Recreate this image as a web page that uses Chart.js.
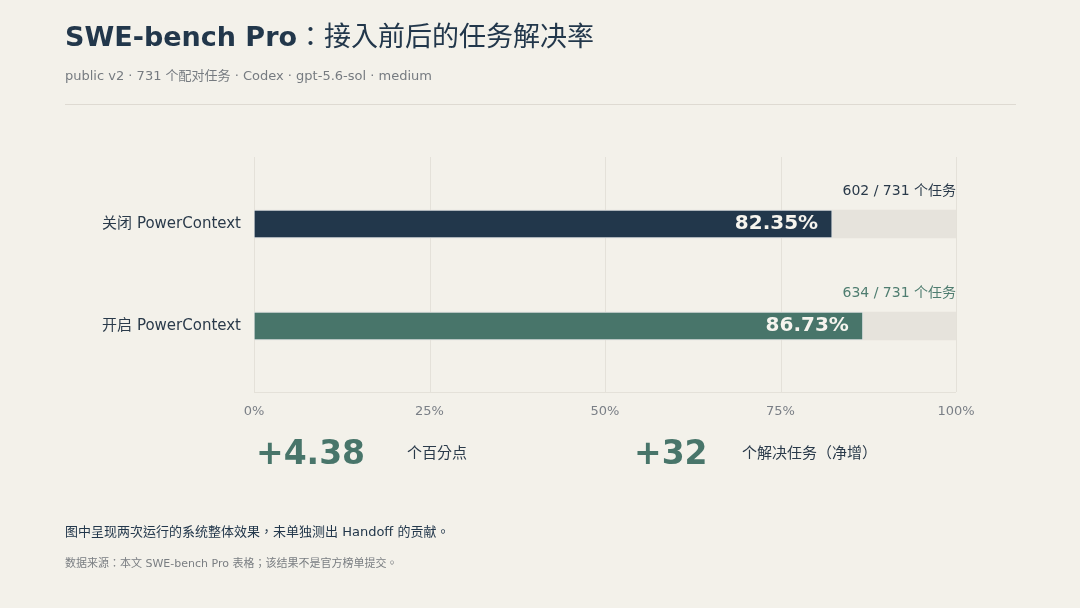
<!DOCTYPE html>
<html>
<head>
<meta charset="utf-8">
<script src="https://cdn.jsdelivr.net/npm/chart.js@4.4.1/dist/chart.umd.min.js"></script>
<style>
  html, body { margin: 0; padding: 0; background: #f3f1ea; }
  body { width: 1080px; height: 608px; position: relative; overflow: hidden;
         font-family: 'DejaVu Sans', 'Noto Sans CJK TC', sans-serif; }
  #wrap { position: absolute; left: 0; top: 0; width: 1080px; height: 608px; }
  .t { position: absolute; white-space: nowrap; line-height: 1; }
  .cjk { font-family: 'Noto Sans CJK TC', sans-serif; text-spacing-trim: space-all; }
  #title { left: 65px; top: 21px; font-size: 27px; color: #22374b; }
  #title b { font-weight: bold; }
  #sub { left: 65px; top: 69px; font-size: 13px; color: #767b80; }
  #rule { position: absolute; left: 65px; top: 104px; width: 951px; height: 1px; background: #dedad2; }
  .big { font-size: 33px; font-weight: bold; color: #48756a; top: 436px; }
  .unit { font-size: 15px; color: #2a3a4a; top: 444px; }
  #note { left: 65px; top: 524px; font-size: 13px; color: #22374b; }
  #src { left: 65px; top: 557px; font-size: 11px; color: #7a7e82; }
</style>
</head>
<body>
<div id="wrap"><canvas id="chart" width="1080" height="608"></canvas></div>
<div class="t" id="title"><b>SWE-bench Pro</b><span class="cjk">：接入前后的任务解决率</span></div>
<div class="t" id="sub">public v2 · 731 个配对任务 · Codex · gpt-5.6-sol · medium</div>
<div id="rule"></div>
<div class="t big" id="deltaPct" style="left:256px"></div>
<div class="t unit cjk" style="left:407px">个百分点</div>
<div class="t big" id="deltaTasks" style="left:634px"></div>
<div class="t unit cjk" style="left:742px">个解决任务（净增）</div>
<div class="t" id="note"><span class="cjk">图中呈现两次运行的系统整体效果，未单独测出</span> Handoff <span class="cjk">的贡献。</span></div>
<div class="t" id="src"><span class="cjk">数据来源：本文</span> SWE-bench Pro <span class="cjk">表格；该结果不是官方榜单提交。</span></div>
<script>
// 数据
const categories = ['关闭 PowerContext', '开启 PowerContext'];
const solveRates = [82.35, 86.73];
const solvedTasks = [602, 634];
const totalTasks = 731;
const trackValues = [100, 100];
const xTicks = [0, 25, 50, 75, 100];

const barColors = ['#22374b', '#48756a'];
const countColors = ['#2a3a4a', '#4f7d70'];
const FONT = "'DejaVu Sans', 'Noto Sans CJK TC', sans-serif";

document.getElementById('deltaPct').textContent = '+' + (solveRates[1] - solveRates[0]).toFixed(2);
document.getElementById('deltaTasks').textContent = '+' + (solvedTasks[1] - solvedTasks[0]);

// 网格线（比绘图区略长）
const gridPlugin = {
    id: 'gridLines',
    beforeDatasetsDraw(chart) {
        const {ctx, chartArea, scales} = chart;
        const top = chartArea.top - 16, bottom = chartArea.bottom + 15;
        ctx.save();
        ctx.strokeStyle = '#e4e1d9';
        ctx.lineWidth = 1;
        xTicks.forEach(v => {
            const x = Math.round(scales.x.getPixelForValue(v)) + 0.5;
            ctx.beginPath();
            ctx.moveTo(x, top);
            ctx.lineTo(x, bottom);
            ctx.stroke();
        });
        ctx.beginPath();
        ctx.moveTo(scales.x.getPixelForValue(0), bottom + 0.5);
        ctx.lineTo(scales.x.getPixelForValue(100), bottom + 0.5);
        ctx.stroke();
        ctx.restore();
    }
};

// 数值标签
const labelPlugin = {
    id: 'barLabels',
    afterDatasetsDraw(chart) {
        const {ctx, chartArea} = chart;
        const meta = chart.getDatasetMeta(1);
        ctx.save();
        meta.data.forEach((bar, i) => {
            ctx.textBaseline = 'middle';
            ctx.textAlign = 'right';
            ctx.fillStyle = '#f6f4ee';
            ctx.font = 'bold 20px ' + FONT;
            ctx.fillText(solveRates[i].toFixed(2) + '%', bar.x - 14, bar.y);
            ctx.fillStyle = countColors[i];
            ctx.font = '14px ' + FONT;
            ctx.fillText(solvedTasks[i] + ' / ' + totalTasks + ' 个任务', chartArea.right, bar.y - 33);
        });
        ctx.restore();
    }
};

new Chart(document.getElementById('chart').getContext('2d'), {
    type: 'bar',
    data: {
        labels: categories,
        datasets: [{
            data: trackValues,
            backgroundColor: '#e6e3dc',
            borderWidth: 0,
            barThickness: 28,
            grouped: false,
            order: 2
        }, {
            data: solveRates,
            backgroundColor: barColors,
            borderColor: 'rgba(220,224,226,0.8)',
            borderWidth: 1,
            borderSkipped: false,
            barThickness: 28,
            grouped: false,
            order: 1
        }]
    },
    options: {
        indexAxis: 'y',
        responsive: false,
        animation: false,
        devicePixelRatio: 1,
        layout: {padding: {left: 0, right: 124, top: 173, bottom: 0}},
        plugins: {legend: {display: false}, tooltip: {enabled: false}},
        scales: {
            x: {
                min: 0, max: 100,
                afterBuildTicks: axis => { axis.ticks = xTicks.map(v => ({value: v})); },
                afterFit: axis => { axis.height = 608 - 377; },
                grid: {display: false, drawTicks: false},
                border: {display: false},
                ticks: {
                    padding: 27,
                    color: '#7a7f86',
                    font: {family: FONT, size: 13},
                    callback: v => v + '%'
                }
            },
            y: {
                afterFit: axis => { axis.width = 254; },
                grid: {display: false, drawTicks: false},
                border: {display: false},
                ticks: {
                    padding: 13,
                    color: '#2a3a4a',
                    font: {family: FONT, size: 15}
                }
            }
        }
    },
    plugins: [gridPlugin, labelPlugin]
});
</script>
</body>
</html>
